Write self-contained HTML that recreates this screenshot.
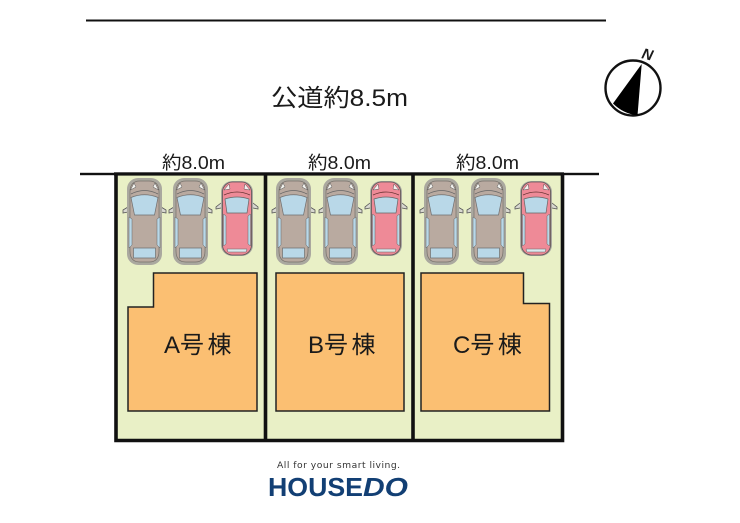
<!DOCTYPE html>
<html><head><meta charset="utf-8"><style>
html,body{margin:0;padding:0;background:#fff}
svg{display:block;filter:blur(.35px)}
text{font-family:"Liberation Sans","Noto Sans CJK JP",sans-serif;fill:#1a1a1a}
</style></head><body>
<svg width="740" height="523" viewBox="0 0 740 523" xmlns="http://www.w3.org/2000/svg">
<defs>
<symbol id="g" width="46" height="90" viewBox="0 0 46 90" overflow="visible">
 <path d="M6 30 L1 33 L1 36 L6 35 M39 30 L44 33 L44 36 L39 35" fill="#d8d8d0" stroke="#555" stroke-width=".8"/>
 <rect x="5" y="1" width="35" height="87" rx="11" fill="#aaa89f"/>
 <path d="M8 15 Q8 4 18 4 H27 Q37 4 37 15 V74 Q37 85 27 85 H18 Q8 85 8 74 Z" fill="#b9aaa0" stroke="#77716b" stroke-width=".7"/>
 <path d="M9 17 Q22.500 10 36 17" fill="none" stroke="#666" stroke-width=".8"/>
 <path d="M8.500 13 L12 6 L14 10 Z M36.500 13 L33 6 L31 10 Z" fill="#f2f2ee" stroke="#555" stroke-width=".5"/>
 <path d="M9 20.500 Q22.500 15 36 20.500 L32.500 38 L12.500 38 Z" fill="#b9d8e8" stroke="#6f6f6f" stroke-width=".7"/>
 <path d="M7 40 L10 42 L10 68 L7 71 Z M38 40 L35 42 L35 68 L38 71 Z" fill="#b9d8e8" stroke="#666" stroke-width=".5"/>
 <path d="M11.500 71 L33.500 71 L33.500 81 L11.500 81 Z" fill="#b9d8e8" stroke="#6f6f6f" stroke-width=".7"/>
</symbol>
<symbol id="r" width="42" height="78" viewBox="0 0 42 78" overflow="visible">
 <path d="M5 23 L0 27 L0 29 L5 28 M37 23 L42 27 L42 29 L37 28" fill="#d8d8d0" stroke="#555" stroke-width=".8"/>
 <rect x="5" y="1" width="32" height="75" rx="11" fill="#a9a8a0"/>
 <rect x="6.500" y="2" width="29" height="73" rx="10" fill="#ee8a97" stroke="#5c5555" stroke-width=".8"/>
 <path d="M8 10 L13 4 L14 9 Z M34 10 L29 4 L28 9 Z" fill="#f5f0f0" stroke="#555" stroke-width=".5"/>
 <path d="M8 15 Q21 9 34 15" fill="none" stroke="#633" stroke-width=".8"/>
 <path d="M9 19 Q21 15 33 19 L31 33 L11 33 Z" fill="#b9d8e8" stroke="#666" stroke-width=".7"/>
 <path d="M7.500 34 L10 36 L10 64 L7.500 66 Z M34.500 34 L32 36 L32 64 L34.500 66 Z" fill="#b9d8e8" stroke="#666" stroke-width=".5"/>
 <path d="M11 69 L31 69 L30 72 L12 72 Z" fill="#dce9ef" stroke="#666" stroke-width=".5"/>
</symbol>
</defs>

<rect width="740" height="523" fill="#fff"/>
<rect x="86" y="19.500" width="520" height="2" fill="#111"/>
<text x="271" y="106" font-size="24" textLength="137" lengthAdjust="spacingAndGlyphs">公道約8.5m</text>

<!-- compass -->
<circle cx="633" cy="88" r="27.500" fill="#fff" stroke="#111" stroke-width="2.400"/>
<path d="M641.700 64 L613 103.500 Q623 113.500 637.500 115.500 Z" fill="#000"/>
<text x="0" y="0" font-size="15" font-style="italic" font-weight="700" transform="translate(641 58) rotate(14)">N</text>

<!-- lots -->
<rect x="116" y="174" width="446" height="266" fill="#e9f0c6"/>
<rect x="80" y="172.800" width="519" height="2.400" fill="#111"/>
<rect x="114" y="172.300" width="450" height="3.300" fill="#111"/>
<path d="M116 174 V440.500 H562.500 V174 M265.500 174 V440.500 M413 174 V440.500" fill="none" stroke="#111" stroke-width="3.600"/>

<!-- buildings -->
<g fill="#fbbf72" stroke="#222" stroke-width="1.500">
<path d="M153.500 273 H257 V411 H128 V307 H153.500 Z"/>
<rect x="276" y="273" width="128" height="138"/>
<path d="M421 273 H523.500 V303.500 H549.500 V411 H421 Z"/>
</g>
<g font-size="24">
<text x="164" y="353">A号<tspan dx="3.500">棟</tspan></text>
<text x="308" y="353">B号<tspan dx="3.500">棟</tspan></text>
<text x="453" y="353">C号<tspan dx="3.500">棟</tspan></text>
</g>

<!-- width labels -->
<g font-size="18">
<text x="162" y="169" textLength="63" lengthAdjust="spacingAndGlyphs">約8.0m</text>
<text x="308" y="169" textLength="63" lengthAdjust="spacingAndGlyphs">約8.0m</text>
<text x="456" y="169" textLength="63" lengthAdjust="spacingAndGlyphs">約8.0m</text>
</g>

<!-- cars -->
<use href="#g" x="122" y="177"/>
<use href="#g" x="168" y="177"/>
<use href="#r" x="216" y="180"/>
<use href="#g" x="271" y="177"/>
<use href="#g" x="318" y="177"/>
<use href="#r" x="365" y="180"/>
<use href="#g" x="419" y="177"/>
<use href="#g" x="466" y="177"/>
<use href="#r" x="515" y="180"/>

<!-- logo -->
<text x="277" y="468" font-size="9.200" letter-spacing=".9" style="font-family:'DejaVu Sans',sans-serif;fill:#333" textLength="124">All for your smart living.</text>
<text x="268" y="496" font-size="26" font-weight="700" style="fill:#123f74" textLength="95" lengthAdjust="spacingAndGlyphs">HOUSE</text>
<text x="363" y="496" font-size="26" font-weight="700" font-style="italic" style="fill:#123f74" textLength="45" lengthAdjust="spacingAndGlyphs">DO</text>
</svg>
</body></html>
